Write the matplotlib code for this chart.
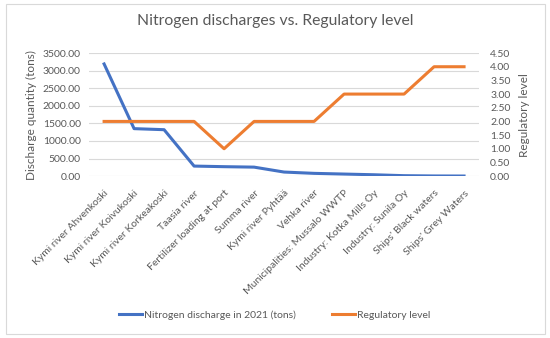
import matplotlib.pyplot as plt
from matplotlib.patches import Rectangle

plt.rcParams['font.family'] = ['Lato', 'DejaVu Sans']

categories = [
    "Kymi river Ahvenkoski", "Kymi river Koivukoski", "Kymi river Korkeakoski",
    "Taasia river", "Fertilizer loading at port", "Summa river",
    "Kymi river Pyhtää", "Vehka river", "Municipalities: Mussalo WWTP",
    "Industry: Kotka Mills Oy", "Industry: Sunila Oy", "Ships' Black waters",
    "Ships' Grey Waters",
]
nitrogen = [3190, 1350, 1320, 285, 268, 255, 115, 78, 58, 38, 12, 4, 2]
regulatory = [2, 2, 2, 2, 1, 2, 2, 2, 3, 3, 3, 4, 4]

blue = "#4472C4"
orange = "#ED7D31"
grey = "#595959"

fig = plt.figure(figsize=(5.5, 3.38), dpi=100)
fig.patches.append(Rectangle((0.011, 0.012), 0.979, 0.976, transform=fig.transFigure,
                             fill=False, edgecolor="#D9D9D9", linewidth=0.8))

ax = fig.add_axes([0.162, 0.479, 0.709, 0.364])
ax2 = ax.twinx()

x = list(range(len(categories)))
l1, = ax.plot(x, nitrogen, color=blue, lw=2.2, solid_joinstyle="round",
              label="Nitrogen discharge in 2021 (tons)")
l2, = ax2.plot(x, regulatory, color=orange, lw=2.2, solid_joinstyle="round",
               label="Regulatory level")

ax.set_xlim(-0.5, len(categories) - 0.5)
ax.set_ylim(0, 3500)
ax.set_yticks([i * 500 for i in range(8)])
ax.set_yticklabels([f"{v:.2f}" for v in ax.get_yticks()])
ax2.set_ylim(0, 4.5)
ax2.set_yticks([i * 0.5 for i in range(10)])
ax2.set_yticklabels([f"{v:.2f}" for v in ax2.get_yticks()])

ax.grid(axis="y", color="#D9D9D9", lw=0.8)
ax.set_axisbelow(True)
for a in (ax, ax2):
    for s in a.spines.values():
        s.set_visible(False)
    a.tick_params(length=0, labelsize=7.5, colors=grey)

ax.set_xticks(x)
ax.set_xticklabels(categories, rotation=45, ha="right", rotation_mode="anchor")
ax.tick_params(axis="x", pad=9)
ax.tick_params(axis="y", pad=6)
ax2.tick_params(axis="y", pad=8)

ax.set_ylabel("Discharge quantity (tons)", fontsize=8.5, color=grey, labelpad=4)
ax2.set_ylabel("Regulatory level", fontsize=8.5, color=grey, labelpad=6)

fig.suptitle("Nitrogen discharges vs. Regulatory level", x=0.5, y=0.958,
             fontsize=11.3, color=grey)

fig.legend(handles=[l1, l2], loc="center", bbox_to_anchor=(0.5, 0.068), ncol=2,
           frameon=False, fontsize=7.5, labelcolor=grey, handlelength=2.2,
           handletextpad=0.2, columnspacing=3.5)

fig.savefig("out.png", dpi=100)
